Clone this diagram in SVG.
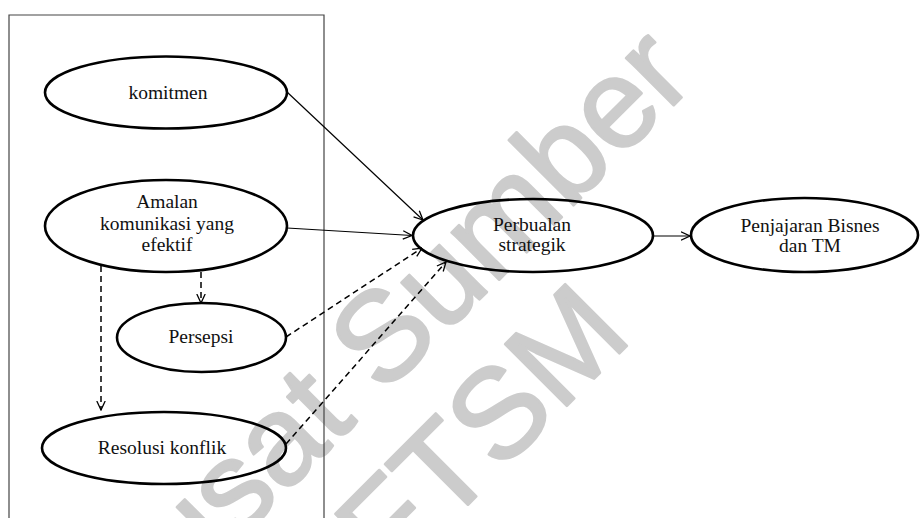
<svg xmlns="http://www.w3.org/2000/svg" width="920" height="518" viewBox="0 0 920 518">
  <defs>
    <marker id="arrow" viewBox="0 0 10 10" refX="9.5" refY="5" markerWidth="10" markerHeight="10" markerUnits="userSpaceOnUse" orient="auto">
      <path d="M0.5,0.8 L9.5,5 L0.5,9.2" fill="none" stroke="#000" stroke-width="1.3"/>
    </marker>
    <style>
      .node { fill: none; stroke: #000; stroke-width: 2.6; }
      .label { font-family: "Liberation Serif", "Times New Roman", serif; font-size: 19.5px; fill: #111; text-anchor: middle; }
      .solid { fill: none; stroke: #000; stroke-width: 1.2; marker-end: url(#arrow); }
      .dashed { fill: none; stroke: #000; stroke-width: 1.5; stroke-dasharray: 6 4; marker-end: url(#arrow); }
      .frame { fill: none; stroke: #444; stroke-width: 1.2; }
      .mark { font-family: "Liberation Sans", Arial, sans-serif; font-size: 127px; fill: #cccccc; stroke: #cccccc; stroke-width: 2.5; stroke-linejoin: round; text-anchor: middle; }
    </style>
  </defs>

  <rect width="920" height="518" fill="#fff"/>

  <!-- background stamp -->
  <g id="stamp" transform="translate(413 366) rotate(-45)">
    <text class="mark" x="0" y="0">Pusat Sumber</text>
    <text class="mark" x="3" y="137">FTSM</text>
  </g>

  <!-- left grouping frame (open at the bottom) -->
  <path class="frame" d="M9,530 L9,15 L324,15 L324,530"/>

  <g id="connectors">
    <line class="solid" x1="287" y1="92" x2="423" y2="220"/>
    <line class="solid" x1="287" y1="228" x2="412" y2="235.5"/>
    <line class="solid" x1="653" y1="236" x2="690" y2="236"/>
    <line class="dashed" x1="286" y1="337" x2="422" y2="248"/>
    <line class="dashed" x1="286" y1="444" x2="446" y2="262"/>
    <line class="dashed" x1="201" y1="272" x2="201" y2="303"/>
    <line class="dashed" x1="101" y1="266" x2="101" y2="410"/>
  </g>

  <g id="komitmen">
    <ellipse class="node" cx="166" cy="92.5" rx="121" ry="36"/>
    <text class="label" x="168" y="99">komitmen</text>
  </g>

  <g id="amalan">
    <ellipse class="node" cx="166" cy="226" rx="121" ry="46"/>
    <text class="label" x="167" y="208">Amalan</text>
    <text class="label" x="167" y="230">komunikasi yang</text>
    <text class="label" x="167" y="251">efektif</text>
  </g>

  <g id="persepsi">
    <ellipse class="node" cx="201.5" cy="337.5" rx="84.5" ry="34.5"/>
    <text class="label" x="201" y="343">Persepsi</text>
  </g>

  <g id="resolusi">
    <ellipse class="node" cx="164" cy="448" rx="122" ry="36"/>
    <text class="label" x="162" y="454">Resolusi konflik</text>
  </g>

  <g id="perbualan">
    <ellipse class="node" cx="533" cy="235.5" rx="120" ry="36.5"/>
    <text class="label" x="532" y="231">Perbualan</text>
    <text class="label" x="532" y="251">strategik</text>
  </g>

  <g id="penjajaran">
    <ellipse class="node" cx="804.5" cy="235" rx="113.5" ry="37"/>
    <text class="label" x="810" y="232">Penjajaran Bisnes</text>
    <text class="label" x="810" y="252">dan TM</text>
  </g>
</svg>
